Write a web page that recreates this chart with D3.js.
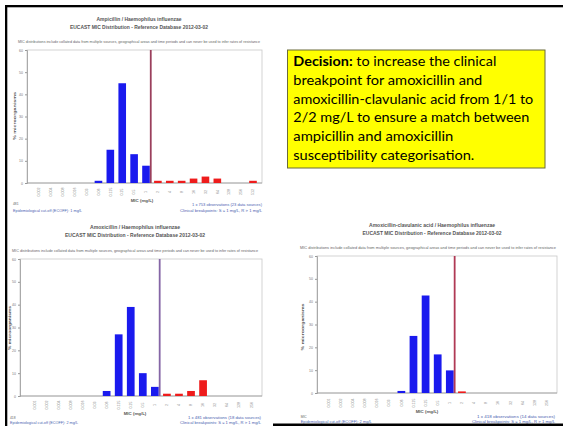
<!DOCTYPE html>
<html><head><meta charset="utf-8">
<script src="https://cdn.jsdelivr.net/npm/d3@7"></script>
<style>html,body{margin:0;padding:0;background:#fff;}svg{display:block;}</style>
</head><body>
<svg id="c" width="563" height="426"></svg>
<script>
// ---- data ----
const micCatsAmp = ["0.002","0.004","0.008","0.016","0.03","0.06","0.125","0.25","0.5","1","2","4","8","16","32","64","128","256","512"];
const micCatsAmox = ["0.001","0.002","0.004","0.008","0.016","0.03","0.06","0.125","0.25","0.5","1","2","4","8","16","32","64","128","256"];
const ampValues  = [0,0,0,0,0,1,15,45,13,7.8,1,1,1,2,2.9,2,0,0,1];
const amoxValues = [0,0,0,0,0,0,2.2,27,39,10,4,1,1,2.2,6.9,0,0,0,0];
const amcValues  = [0,0,0,0,0,0,0.9,25,42.7,16.9,9.9,0.7,0,0,0,0,0,0,0];
const yTicks = [0,10,20,30,40,50,60];
const breakpointAmp = "1";
const breakpointAmox = "1";
const titles1 = ["Ampicillin / Haemophilus influenzae","Amoxicillin / Haemophilus influenzae","Amoxicillin-clavulanic acid / Haemophilus influenzae"];
const title2 = "EUCAST MIC Distribution - Reference Database 2012-03-02";
const subtitle = "MIC distributions include collated data from multiple sources, geographical areas and time periods and can never be used to infer rates of resistance";
const footLeft = [["481","Epidemiological cut-off (ECOFF): 1 mg/L"],["418","Epidemiological cut-off (ECOFF): 2 mg/L"],["MIC","Epidemiological cut-off (ECOFF): 2 mg/L"]];
const footRight = [["1 x 753 observations (23 data sources)","Clinical breakpoints: S ≤ 1 mg/L, R > 1 mg/L"],["1 x 481 observations (18 data sources)","Clinical breakpoints: S ≤ 1 mg/L, R > 1 mg/L"],["1 x 418 observations (14 data sources)","Clinical breakpoints: S ≤ 1 mg/L, R > 1 mg/L"]];
const decisionBold = "Decision:";
const decisionLines = [" to increase the clinical","breakpoint for amoxicillin and","amoxicillin-clavulanic acid from 1/1 to","2/2 mg/L to ensure a match between","ampicillin and amoxicillin","susceptibility categorisation."];

// ---- layout ----
const charts = [
  {cats:micCatsAmp, vals:ampValues, bp:breakpointAmp, t:titles1[0], fl:footLeft[0], fr:footRight[0],
   x0:27,x1:262,y0:50,y1:183,c0:39,c1:253,bpColor:"#9a3f5c",
   tx:139,ty1:21,ty2:29,tw1:85,tw2:138, sy:43,sx0:18,sx1:260, ylx:16,ylc:116,yll:48,
   xly:192,micx:142,micy:202, fly1:205,fly2:211.5,flx:13,flw:69, fry1:206,fry2:211.5,frx:262,frw1:70,frw2:82},
  {cats:micCatsAmox, vals:amoxValues, bp:breakpointAmox, t:titles1[1], fl:footLeft[1], fr:footRight[1],
   x0:20,x1:262,y0:259,y1:396,c0:34.3,c1:251.3,bpColor:"#8566a6",
   tx:135,ty1:229,ty2:237,tw1:90,tw2:140, sy:251.5,sx0:12,sx1:258, ylx:11,ylc:328,yll:44,
   xly:405,micx:135,micy:415, fly1:418.5,fly2:424,flx:10,flw:68, fry1:419,fry2:424,frx:261,frw1:73,frw2:81},
  {cats:micCatsAmox, vals:amcValues, bp:breakpointAmox, t:titles1[2], fl:footLeft[2], fr:footRight[2],
   x0:317,x1:557,y0:256,y1:393,c0:328.7,c1:546.7,bpColor:"#b03a55",
   tx:432,ty1:226.5,ty2:235,tw1:126,tw2:139, sy:249,sx0:300,sx1:556, ylx:304,ylc:327,yll:47,
   xly:403,micx:427,micy:413, fly1:418,fly2:422.5,flx:300.7,flw:71, fry1:417.5,fry2:422.5,frx:555,frw1:78,frw2:83}
];

const svg = d3.select("#c");
const font = "'Liberation Sans', Arial, sans-serif";

charts.forEach(c => {
  const g = svg.append("g");
  const x = d3.scalePoint().domain(c.cats).range([c.c0, c.c1]);
  const y = d3.scaleLinear().domain([0, 60]).range([c.y1, c.y0]);
  const step = x.step();
  const bw = step * 0.64;
  const bpIdx = c.cats.indexOf(c.bp);

  // titles
  g.append("text").attr("x", c.tx).attr("y", c.ty1).attr("text-anchor","middle")
    .attr("font-family", font).attr("font-size", 4.6).attr("font-weight","bold").attr("fill","#555")
    .attr("textLength", c.tw1).attr("lengthAdjust","spacingAndGlyphs").text(c.t);
  g.append("text").attr("x", c.tx).attr("y", c.ty2).attr("text-anchor","middle")
    .attr("font-family", font).attr("font-size", 4.6).attr("font-weight","bold").attr("fill","#555")
    .attr("textLength", c.tw2).attr("lengthAdjust","spacingAndGlyphs").text(title2);
  g.append("text").attr("x", c.sx0).attr("y", c.sy)
    .attr("font-family", font).attr("font-size", 3.4).attr("fill","#666")
    .attr("textLength", c.sx1 - c.sx0).attr("lengthAdjust","spacingAndGlyphs").text(subtitle);

  // plot frame
  g.append("rect").attr("x", c.x0).attr("y", c.y0).attr("width", c.x1 - c.x0).attr("height", c.y1 - c.y0)
    .attr("fill","#fff").attr("stroke","#c8c8c8").attr("stroke-width",0.8);

  // y axis
  const ya = d3.axisLeft(y).tickValues(yTicks).tickSize(2).tickPadding(2).tickFormat(d3.format("d"));
  const yg = g.append("g").attr("transform", `translate(${c.x0},0)`).call(ya);
  yg.select(".domain").attr("stroke","#999").attr("stroke-width",0.8);
  yg.selectAll(".tick line").attr("stroke","#999");
  yg.selectAll(".tick text").attr("font-family", font).attr("font-size", 3.5).attr("fill","#777");

  // x axis baseline
  g.append("line").attr("x1", c.x0).attr("x2", c.x1).attr("y1", c.y1).attr("y2", c.y1)
    .attr("stroke","#999").attr("stroke-width",0.8);

  // x tick labels (rotated)
  g.selectAll("text.xt").data(c.cats).enter().append("text").attr("class","xt")
    .attr("transform", d => `translate(${x(d)+1.2},${c.xly}) rotate(-90)`)
    .attr("text-anchor","middle").attr("font-family", font).attr("font-size", 3.6).attr("fill","#888")
    .text(d => d);

  // bars
  g.selectAll("rect.bar").data(c.vals.map((v,i)=>({v,i,k:c.cats[i]})).filter(d => d.v > 0))
    .enter().append("rect").attr("class","bar")
    .attr("x", d => x(d.k) - bw/2).attr("width", bw)
    .attr("y", d => y(d.v)).attr("height", d => c.y1 - y(d.v))
    .attr("fill", d => d.i <= bpIdx ? "#1a1aee" : "#ee1c1c");

  // breakpoint line
  const bx = x(c.bp) + step * 0.4;
  g.append("line").attr("x1", bx).attr("x2", bx).attr("y1", c.y0).attr("y2", c.y1)
    .attr("stroke", c.bpColor).attr("stroke-width", 1.8);

  // y label
  g.append("text").attr("transform", `translate(${c.ylx},${c.ylc}) rotate(-90)`)
    .attr("text-anchor","middle").attr("font-family", font).attr("font-size", 4.2).attr("font-weight","bold")
    .attr("fill","#555").attr("textLength", c.yll).attr("lengthAdjust","spacingAndGlyphs").text("% microorganisms");

  // x label
  g.append("text").attr("x", c.micx).attr("y", c.micy).attr("text-anchor","middle")
    .attr("font-family", font).attr("font-size", 4.4).attr("font-weight","bold").attr("fill","#555")
    .text("MIC (mg/L)");

  // footers
  g.append("text").attr("x", c.flx).attr("y", c.fly1).attr("font-family", font).attr("font-size", 3.3).attr("fill","#666").text(c.fl[0]);
  g.append("text").attr("x", c.flx).attr("y", c.fly2).attr("font-family", font).attr("font-size", 3.3).attr("fill","#4a62b0")
    .attr("textLength", c.flw).attr("lengthAdjust","spacingAndGlyphs").text(c.fl[1]);
  g.append("text").attr("x", c.frx).attr("y", c.fry1).attr("text-anchor","end").attr("font-family", font).attr("font-size", 3.3).attr("fill","#4a62b0")
    .attr("textLength", c.frw1).attr("lengthAdjust","spacingAndGlyphs").text(c.fr[0]);
  g.append("text").attr("x", c.frx).attr("y", c.fry2).attr("text-anchor","end").attr("font-family", font).attr("font-size", 3.3).attr("fill","#4a62b0")
    .attr("textLength", c.frw2).attr("lengthAdjust","spacingAndGlyphs").text(c.fr[1]);
});

// slide frame
svg.append("rect").attr("x",5).attr("y",5).attr("width",558).attr("height",2.3).attr("fill","#000");
svg.append("rect").attr("x",5).attr("y",5).attr("width",2.3).attr("height",421).attr("fill","#000");
svg.append("rect").attr("x",273).attr("y",423.5).attr("width",290).attr("height",2.5).attr("fill","#000");

// decision box
svg.append("rect").attr("x",287.5).attr("y",50).attr("width",257.5).attr("height",118)
  .attr("fill","#ffff00").attr("stroke","#6b6b3a").attr("stroke-width",1);
const lineW = [203,189,240,236,160,181];
const boxFont = "'Liberation Sans Narrow','Lato','Open Sans',sans-serif";
decisionLines.forEach((t,i) => {
  const tx = svg.append("text").attr("x",293.3).attr("y",66.3 + i*18.7)
    .attr("font-family", boxFont).attr("font-size",14).attr("fill","#000")
    .attr("textLength", lineW[i]).attr("lengthAdjust","spacingAndGlyphs");
  if (i === 0) {
    tx.append("tspan").attr("font-weight","bold").text(decisionBold);
    tx.append("tspan").text(t);
  } else tx.text(t);
});
</script>
</body></html>
